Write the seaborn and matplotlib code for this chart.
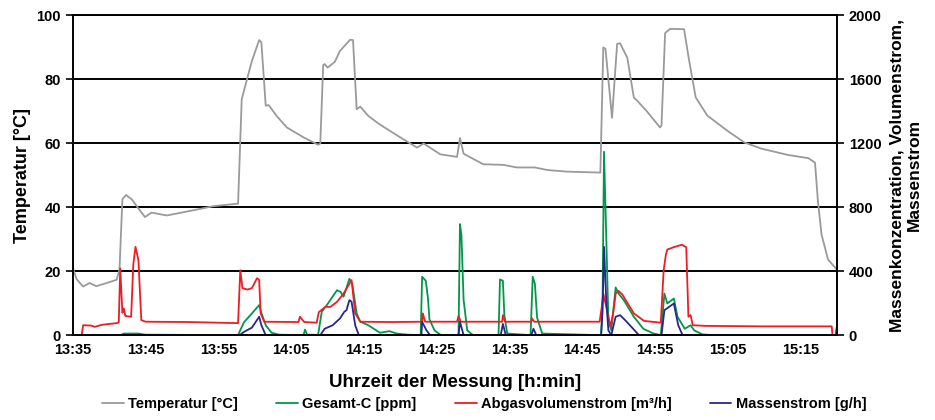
import numpy as np
import pandas as pd
import matplotlib
matplotlib.use("Agg")
import matplotlib.pyplot as plt
import seaborn as sns

# --- data: time in minutes after 13:35 ---
temp_t = [0, 0.5, 1.4, 2.3, 3.2, 4.5, 6.0, 6.4, 6.8, 7.3, 8.1, 9.0, 9.9, 10.8, 12.9, 16.5,
          19.3, 22.7, 23.2, 23.7, 24.6, 25.6, 25.9, 26.5, 26.9, 28.0, 29.4, 31.7, 33.7, 34.0,
          34.4, 34.6, 35.0, 36.0, 36.7, 38.1, 38.5, 39.0, 39.5, 40.6, 42.2, 45.0, 47.3, 48.2,
          50.5, 52.8, 53.2, 53.7, 56.4, 59.2, 61.0, 63.5, 65.2, 67.9, 72.5, 72.9, 73.2, 74.1,
          74.8, 75.2, 76.2, 77.1, 77.5, 78.9, 80.7, 80.9, 81.4, 82.1, 84.0, 84.7, 85.6, 87.2,
          90.0, 92.3, 94.6, 98.3, 101.1, 102.0, 102.4, 102.9, 103.8, 105.0]
temp_v = [21, 17.5, 15.2, 16.3, 15.3, 16.2, 17.3, 20.5, 42.5, 43.8, 42.4, 39.6, 36.9, 38.3, 37.4, 39.0,
          40.3, 41.1, 73.7, 78.0, 85.7, 92.2, 91.5, 71.7, 71.9, 68.5, 64.9, 61.8, 59.5, 59.9,
          84.4, 84.7, 83.6, 85.4, 88.8, 92.3, 92.2, 70.6, 71.4, 68.5, 65.8, 61.8, 58.6, 59.9,
          56.5, 55.7, 61.6, 56.7, 53.4, 53.2, 52.4, 52.4, 51.6, 51.1, 50.8, 89.9, 89.5, 67.9,
          91.0, 91.2, 86.7, 74.2, 73.4, 69.9, 64.9, 65.5, 94.4, 95.7, 95.6, 85.8, 74.3, 68.6,
          63.8, 60.2, 58.3, 56.3, 55.3, 53.9, 41.9, 31.4, 23.6, 20.5]

gesamt_t = [0, 6.5, 7.0, 9.0, 10.0, 22.7, 23.0, 23.5, 24.6, 25.6, 25.9, 26.5, 27.3, 28.3, 31.7,
            31.9, 32.2, 33.7, 34.2, 34.9, 36.3, 36.8, 37.2, 38.0, 38.4, 39.0, 39.5, 40.6, 42.2,
            43.5, 44.5, 46.0, 47.8, 48.0, 48.5, 48.8, 49.0, 49.7, 50.6, 53.0, 53.2, 53.4, 53.7,
            54.2, 55.0, 58.5, 58.7, 59.1, 59.3, 59.7, 62.9, 63.2, 63.5, 63.8, 64.5, 72.6, 72.8,
            73.0, 73.3, 73.6, 74.0, 74.6, 75.0, 75.7, 77.1, 78.4, 79.7, 80.8, 81.3, 81.7, 82.6,
            83.1, 84.1, 84.9, 85.4, 86.5, 88.0, 105.0]
gesamt_v = [0, 0, 10, 10, 3, 0, 31, 80, 136, 188, 140, 62, 15, 3, 0,
            35, 3, 2, 146, 188, 281, 270, 240, 352, 320, 136, 84, 62, 15,
            25, 10, 3, 0, 365, 340, 230, 100, 30, 0, 0, 694, 625, 220,
            30, 0, 0, 348, 340, 125, 10, 0, 365, 320, 110, 10, 0, 220,
            1146, 625, 94, 30, 298, 260, 220, 115, 40, 12, 0, 260, 198, 229,
            115, 40, 62, 30, 5, 0, 0]

abgas_t = [0, 1.2, 1.4, 2.5, 3.0, 4.0, 6.0, 6.3, 6.5, 6.8, 7.0, 7.2, 8.0, 8.3, 8.6, 9.0, 9.4,
           10.0, 16.0, 22.7, 23.0, 23.3, 24.0, 24.6, 25.3, 25.6, 25.8, 26.3, 31.0, 31.2, 31.8,
           33.5, 33.8, 34.7, 35.4, 36.3, 37.2, 38.3, 38.8, 39.5, 44.0, 48.0, 48.1, 48.4, 52.8,
           53.0, 53.3, 59.0, 59.1, 59.4, 63.0, 63.1, 63.4, 72.4, 72.7, 72.9, 73.3, 73.9, 74.3,
           74.6, 75.0, 75.5, 77.1, 78.5, 80.8, 81.2, 81.5, 81.7, 82.6, 83.7, 84.3, 84.6, 84.9,
           85.2, 87.0, 95.0, 104.3, 104.4, 104.8, 105.0]
abgas_v = [0, 0, 62, 60, 52, 65, 75, 80, 417, 140, 167, 120, 115, 443, 552, 470, 94,
           84, 82, 75, 406, 294, 285, 294, 356, 345, 136, 84, 82, 115, 82,
           78, 144, 177, 177, 208, 260, 344, 136, 84, 82, 84, 136, 84, 84,
           120, 84, 84, 125, 84, 84, 104, 84, 84, 180, 260, 180, 52, 150,
           260, 276, 255, 136, 89, 78, 406, 502, 535, 550, 565, 550, 115, 125,
           62, 58, 55, 55, 0, 0, 55]

massen_t = [0, 22.9, 23.5, 24.6, 25.6, 25.9, 26.5, 34.0, 34.6, 35.7, 36.7, 37.3, 37.6, 38.0,
            38.3, 38.8, 39.3, 47.9, 48.0, 48.6, 49.1, 53.0, 53.2, 53.7, 58.8, 59.1, 59.5, 63.0,
            63.3, 63.7, 72.6, 72.8, 73.0, 73.3, 73.6, 74.0, 74.6, 75.2, 75.9, 77.1, 77.8, 80.9,
            81.3, 82.6, 83.2, 83.8, 105.0]
massen_v = [0, 0, 20, 47, 115, 62, 0, 0, 40, 62, 104, 146, 156, 219,
            209, 62, 0, 0, 83, 30, 0, 0, 83, 0, 0, 70, 0, 0,
            40, 0, 0, 150, 552, 220, 30, 0, 115, 125, 94, 35, 0, 0,
            156, 198, 62, 0, 0]

time_labels = ["13:35", "13:45", "13:55", "14:05", "14:15", "14:25",
               "14:35", "14:45", "14:55", "15:05", "15:15"]

series = {
    "Gesamt-C [ppm]": (gesamt_t, gesamt_v, "#00974a"),
    "Abgasvolumenstrom [m³/h]": (abgas_t, abgas_v, "#ee1c25"),
    "Massenstrom [g/h]": (massen_t, massen_v, "#27288f"),
}

sns.set_style("white")
plt.rcParams["font.family"] = ["Liberation Sans", "DejaVu Sans"]
plt.rcParams["font.weight"] = "bold"
plt.rcParams.update({"text.color": "black", "axes.labelcolor": "black",
                     "xtick.color": "black", "ytick.color": "black"})

fig, ax = plt.subplots(figsize=(9.35, 4.2), dpi=100)
fig.subplots_adjust(left=0.078, right=0.895, top=0.964, bottom=0.202)
ax2 = ax.twinx()

sns.lineplot(x=temp_t, y=temp_v, ax=ax, color="#9a9a9a", lw=1.3,
             label="Temperatur [°C]", estimator=None, sort=False)
for name, (t, v, c) in series.items():
    sns.lineplot(x=t, y=v, ax=ax2, color=c, lw=1.3, label=name, estimator=None, sort=False)

ax.set_xlim(0, 105)
ax.set_ylim(0, 100)
ax2.set_ylim(0, 2000)
ax.set_yticks(range(0, 101, 20))
ax2.set_yticks(range(0, 2001, 400))
ax.set_xticks(range(0, 101, 10))
ax.set_xticklabels(time_labels)
ax.set_xticks(np.arange(5, 106, 10), minor=True)

ax.grid(axis="y", color="black", lw=1.4)
ax.set_axisbelow(True)
for a in (ax, ax2):
    for s in a.spines.values():
        s.set_color("black")
        s.set_linewidth(1.2)
ax.tick_params(axis="x", which="major", length=0, pad=6, labelsize=10.5)
ax.tick_params(axis="x", which="minor", length=5, width=1.2, color="black", direction="out")
ax.tick_params(axis="y", length=5, width=1.2, color="black", direction="out", labelsize=10.5, left=True)
ax2.tick_params(axis="y", length=5, width=1.2, color="black", direction="out", labelsize=10.5, right=True)

ax.set_xlabel("Uhrzeit der Messung [h:min]", fontsize=13.5, fontweight="bold", labelpad=12)
ax.set_ylabel("Temperatur [°C]", fontsize=13, fontweight="bold", labelpad=4)
ax2.set_ylabel("Massenkonzentration, Volumenstrom,\nMassenstrom", fontsize=12.5,
               fontweight="bold", labelpad=6)

h1, l1 = ax.get_legend_handles_labels()
h2, l2 = ax2.get_legend_handles_labels()
ax.get_legend().remove()
ax2.get_legend().remove()
fig.legend(h1 + h2, l1 + l2, loc="lower center", bbox_to_anchor=(0.518, -0.01), ncol=4,
           frameon=False, fontsize=10.5, handlelength=1.5, handletextpad=0.3, columnspacing=2.6)

fig.savefig("out.png", dpi=100)
